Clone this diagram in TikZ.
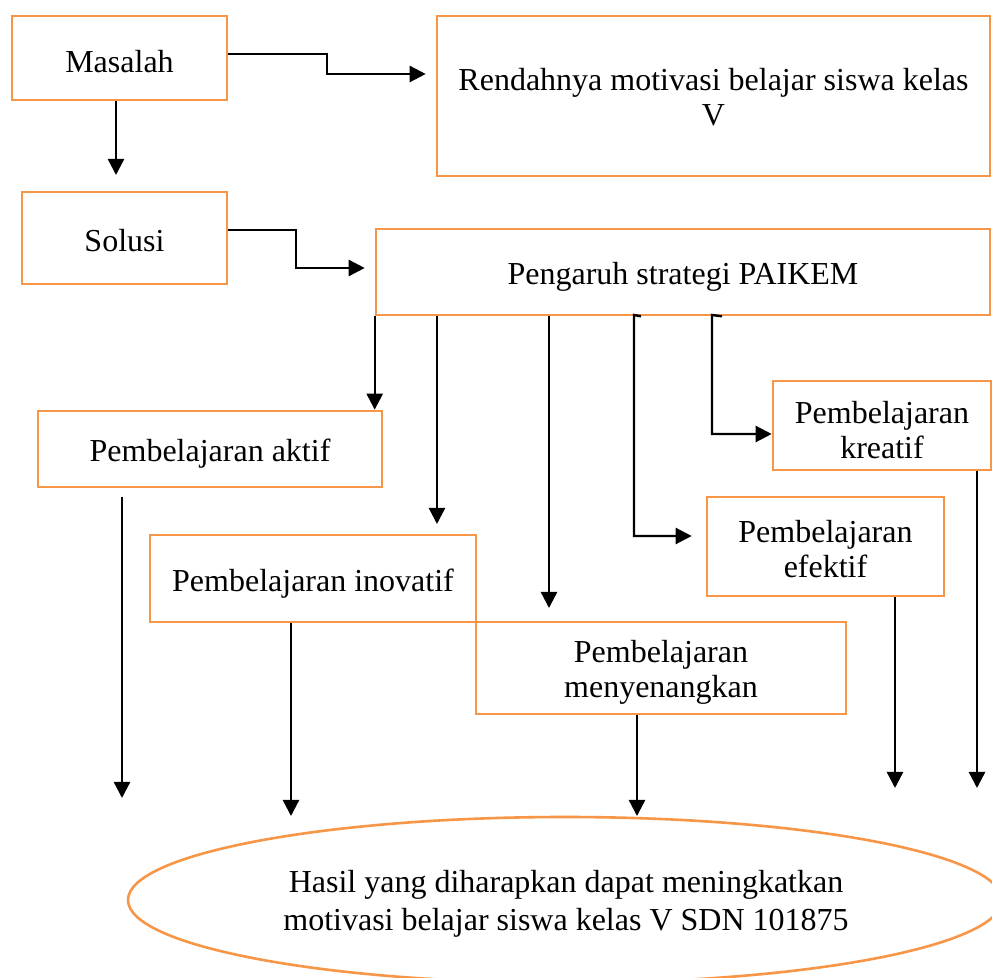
\documentclass[tikz,border=0pt]{standalone}
\usepackage{fontspec}
\setmainfont{Liberation Serif}
\usetikzlibrary{arrows.meta,shapes.geometric}
\definecolor{boxorange}{HTML}{F79646}
\tikzset{
  box/.style={draw=boxorange, line width=1.3pt, fill=white, inner sep=0pt},
  oval/.style={ellipse, draw=boxorange, line width=1.3pt, inner sep=0pt},
  txt/.style={inner sep=0pt, align=center, font=\fontsize{16}{17.5}\selectfont},
  arr/.style={line width=1.2pt, -{Triangle[length=8pt,width=8pt]}},
}
\begin{document}
\begin{tikzpicture}[x=0.5pt,y=-0.5pt]
\clip (0,0) rectangle (992,978);
\fill[white] (0,0) rectangle (992,978);
% boxes
\node[box, minimum width=107.5pt, minimum height=42pt] (masalah) at (119.5,58) {};
\node[box, minimum width=276.5pt, minimum height=80pt] (rendah) at (713.5,96) {};
\node[box, minimum width=102.5pt, minimum height=46pt] (solusi) at (124.5,238) {};
\node[box, minimum width=307pt, minimum height=43pt] (pengaruh) at (683,272) {};
\node[box, minimum width=172pt, minimum height=38pt] (aktif) at (210,449) {};
\node[box, minimum width=109pt, minimum height=44.5pt] (kreatif) at (882,425.5) {};
\node[box, minimum width=118.5pt, minimum height=49.5pt] (efektif) at (825.5,546.5) {};
\node[box, minimum width=163pt, minimum height=43.5pt] (inovatif) at (313,578.5) {};
\node[box, minimum width=185pt, minimum height=46pt] (senang) at (661,668) {};
\node[oval, minimum width=437pt, minimum height=83pt] (hasil) at (565,900) {};
% texts
\node[txt] (tmasalah) at ([yshift=-2pt]masalah.center) {Masalah};
\node[txt] (trendah) at ([yshift=-0.75pt]rendah.center) {Rendahnya motivasi belajar siswa kelas\\V};
\node[txt] (tsolusi) at ([yshift=-1.5pt]solusi.center) {Solusi};
\node[txt] (tpengaruh) at ([yshift=-2.5pt]pengaruh.center) {Pengaruh strategi PAIKEM};
\node[txt] (taktif) at ([yshift=-2.5pt]aktif.center) {Pembelajaran aktif};
\node[txt] (tkreatif) at ([yshift=-2.5pt]kreatif.center) {Pembelajaran\\kreatif};
\node[txt] (tefektif) at ([yshift=-1.5pt]efektif.center) {Pembelajaran\\efektif};
\node[txt] (tinovatif) at ([yshift=-2.5pt]inovatif.center) {Pembelajaran inovatif};
\node[txt] (tsenang) at ([yshift=-2pt]senang.center) {Pembelajaran\\menyenangkan};
\node[txt, font=\fontsize{16}{19}\selectfont] (thasil) at ([xshift=0.5pt,yshift=-2pt]hasil.center) {Hasil yang diharapkan dapat meningkatkan\\motivasi belajar siswa kelas V SDN 101875};
% free ends
\coordinate (e1) at (116,175);
\coordinate (e2) at (437,524);
\coordinate (e3) at (549,608);
\coordinate (e4) at (122,798);
\coordinate (e5) at (291,816);
\coordinate (e6) at (637,816);
\coordinate (e7) at (895,788);
\coordinate (e8) at (977,788);
% connectors
\draw[arr] ([yshift=2pt]masalah.east) -- (327,54) -- (327,74) -- ([xshift=-5pt,yshift=11pt]rendah.west);
\draw[arr] (masalah.south -| e1) -- (e1);
\draw[arr] ([yshift=4pt]solusi.east) -- (296,230) -- (296,268) -- ([xshift=-5pt,yshift=2pt]pengaruh.west);
\draw[arr] (pengaruh.south west) -- (pengaruh.south west |- aktif.north);
\draw[arr] (pengaruh.south -| e2) -- (e2);
\draw[arr] (pengaruh.south -| e3) -- (e3);
\draw[arr] (pengaruh.south -| 641,0) -- (634,315) -- (634,536) -- ([xshift=-7pt,yshift=5.25pt]efektif.west);
\draw[arr] (pengaruh.south -| 722,0) -- (712,315) -- (712,434) -- ([yshift=-4.25pt]kreatif.west);
\draw[arr] (122,497) -- (e4);
\draw[arr] (inovatif.south -| e5) -- (e5);
\draw[arr] (senang.south -| e6) -- (e6);
\draw[arr] (efektif.south -| e7) -- (e7);
\draw[arr] (kreatif.south -| e8) -- (e8);
\end{tikzpicture}
\end{document}
